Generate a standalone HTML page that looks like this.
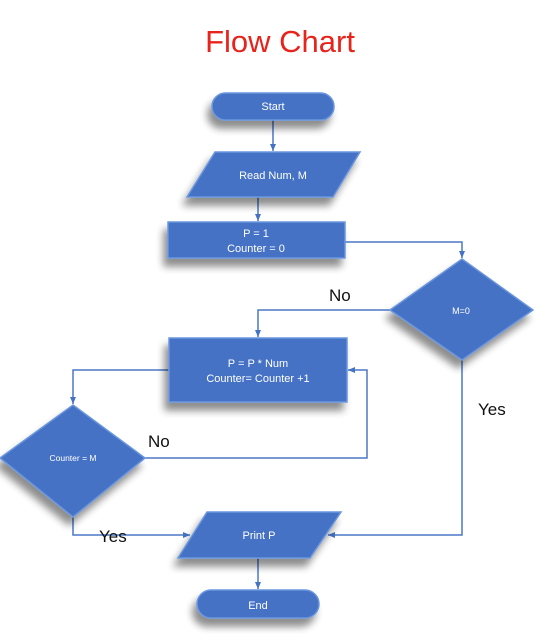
<!DOCTYPE html>
<html><head><meta charset="utf-8"><style>
html,body{margin:0;padding:0;background:#fff;}
svg{display:block;}
text{font-family:"Comic Sans MS","Liberation Sans",sans-serif;}
</style></head><body>
<svg width="556" height="634" viewBox="0 0 556 634" xmlns="http://www.w3.org/2000/svg">
<defs>
<filter id="sh" x="-30%" y="-30%" width="160%" height="180%">
<feGaussianBlur in="SourceAlpha" stdDeviation="4"/>
<feOffset dx="-4" dy="8" result="b"/>
<feComponentTransfer><feFuncA type="linear" slope="0.45"/></feComponentTransfer>
<feMerge><feMergeNode/><feMergeNode in="SourceGraphic"/></feMerge>
</filter>
<marker id="ar" markerWidth="8" markerHeight="8" refX="7" refY="4" orient="auto" markerUnits="userSpaceOnUse">
<path d="M0,1 L7,4 L0,7 z" fill="#4472c4"/>
</marker>
</defs>
<text x="280" y="52" font-size="31" fill="#e8231b" text-anchor="middle">Flow Chart</text>

<g stroke="#4a78c8" stroke-width="1.5" fill="none">
<line x1="273" y1="120" x2="273" y2="151" marker-end="url(#ar)"/>
<line x1="258" y1="197" x2="258" y2="221" marker-end="url(#ar)"/>
<polyline points="345,242 462,242 462,258" marker-end="url(#ar)"/>
<polyline points="390,310 258,310 258,337" marker-end="url(#ar)"/>
<polyline points="169,370 73,370 73,404" marker-end="url(#ar)"/>
<polyline points="145,458 367,458 367,370 348,370" marker-end="url(#ar)"/>
<polyline points="73,517 73,535 190,535" marker-end="url(#ar)"/>
<polyline points="462,360 462,535 328,535" marker-end="url(#ar)"/>
<line x1="258" y1="558" x2="258" y2="589" marker-end="url(#ar)"/>
</g>

<g fill="#4472c4" stroke="#6a96de" stroke-width="1.5" filter="url(#sh)">
<rect x="212" y="93" width="122" height="27" rx="13.5"/>
<polygon points="215,152 360,152 333,197 187,197"/>
<rect x="168" y="222" width="177" height="36"/>
<polygon points="462,259 533,310 462,360 390,310"/>
<rect x="169" y="338" width="178" height="64"/>
<polygon points="73,405 145,458 73,517 0,458"/>
<polygon points="207,512 341,512 310,558 178,558"/>
<rect x="197" y="590" width="122" height="28" rx="14"/>
</g>

<g fill="#fff" text-anchor="middle" font-size="11">
<text x="273" y="110">Start</text>
<text x="273" y="179">Read Num, M</text>
<text x="256" y="237">P = 1</text>
<text x="256" y="252">Counter = 0</text>
<text x="461" y="314" font-size="9">M=0</text>
<text x="258" y="367">P = P * Num</text>
<text x="258" y="382">Counter= Counter +1</text>
<text x="73" y="461" font-size="8.5">Counter = M</text>
<text x="259" y="539">Print P</text>
<text x="258" y="609">End</text>
</g>
<g fill="#111" font-size="17">
<text x="329" y="301">No</text>
<text x="148" y="447">No</text>
<text x="478" y="415">Yes</text>
<text x="99" y="542">Yes</text>
</g>
</svg>
</body></html>
